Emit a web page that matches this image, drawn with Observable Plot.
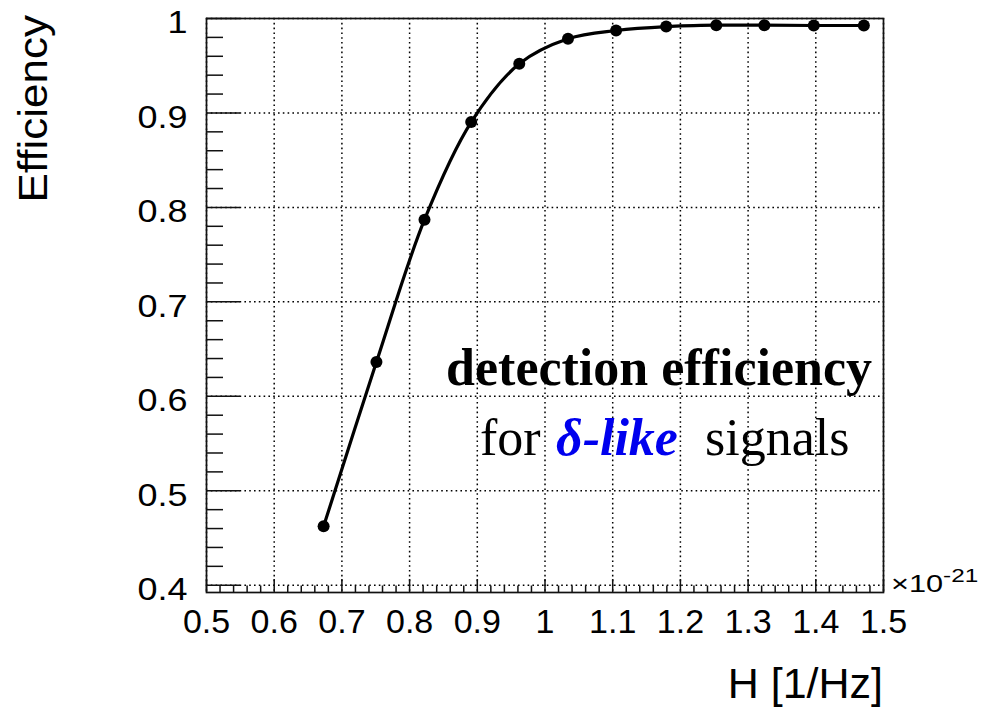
<!DOCTYPE html>
<html>
<head>
<meta charset="utf-8">
<script src="https://cdn.jsdelivr.net/npm/d3@7"></script>
<script src="https://cdn.jsdelivr.net/npm/@observablehq/plot@0.6"></script>
<style>
  html, body { margin: 0; padding: 0; background: #fff; }
  #chart { position: relative; width: 983px; height: 707px; }
</style>
</head>
<body>
<div id="chart"></div>
<script>
// Data
const H = [0.673, 0.751, 0.822, 0.891, 0.962, 1.034, 1.105, 1.179, 1.253, 1.324, 1.397, 1.471];
const efficiency = [0.4624, 0.6363, 0.787, 0.8903, 0.952, 0.9785, 0.9873, 0.9915, 0.9929, 0.9929, 0.9926, 0.9926];

// Tick labels
const xTicks = [0.5, 0.6, 0.7, 0.8, 0.9, 1.0, 1.1, 1.2, 1.3, 1.4, 1.5];
const yTicks = [0.4, 0.5, 0.6, 0.7, 0.8, 0.9, 1.0];
const xLabel = "H [1/Hz]";
const yLabel = "Efficiency";
const xExponent = "-21";

const data = H.map((h, i) => ({h, e: efficiency[i]}));

const W = 983, HGT = 707;
const mL = 206, mR = 100, mT = 18, mB = 115;
const plotW = W - mL - mR, plotH = HGT - mT - mB;

const isMajor = (v, majors) => majors.some(m => Math.abs(m - v) < 1e-6);
const xMinor = d3.range(0.5, 1.5001, 0.02).filter(v => !isMajor(v, xTicks));
const yMinor = d3.range(0.4, 1.0001, 0.02).filter(v => !isMajor(v, yTicks));

const fmt = d => String(+d.toFixed(1));
const SANS = "Liberation Sans, Arial, sans-serif";
const SERIF = "Liberation Serif, Times New Roman, serif";

const svg = Plot.plot({
  width: W,
  height: HGT,
  marginLeft: mL,
  marginRight: mR,
  marginTop: mT,
  marginBottom: mB,
  style: {fontFamily: SANS, background: "white", color: "#000"},
  x: {domain: [0.5, 1.5]},
  y: {domain: [0.3923, 1.0]},
  marks: [
    Plot.ruleX(xTicks, {stroke: "#000", strokeWidth: 1.5, strokeDasharray: "1.6,3.2"}),
    Plot.ruleY(yTicks, {stroke: "#000", strokeWidth: 1.5, strokeDasharray: "1.6,3.2"}),
    Plot.frame({stroke: "#111", strokeWidth: 1.7}),
    Plot.tickY(yTicks, {y: d => d, stroke: "#111", strokeWidth: 1.5, insetRight: plotW - 34}),
    Plot.tickY(yMinor, {y: d => d, stroke: "#111", strokeWidth: 1.5, insetRight: plotW - 17}),
    Plot.tickX(xTicks, {x: d => d, stroke: "#111", strokeWidth: 1.5, insetTop: plotH - 13}),
    Plot.tickX(xMinor, {x: d => d, stroke: "#111", strokeWidth: 1.5, insetTop: plotH - 6.5}),
    Plot.axisX(xTicks, {tickSize: 0, tickPadding: 16, fontSize: 34, tickFormat: fmt, label: null}),
    Plot.axisY(yTicks, {tickSize: 0, tickPadding: 19, fontSize: 31, dy: 5, tickFormat: fmt, label: null}),
    Plot.line(data, {x: "h", y: "e", curve: "catmull-rom", stroke: "#000", strokeWidth: 3.2}),
    Plot.dot(data, {x: "h", y: "e", r: 6, fill: "#000", stroke: "none"})
  ]
});

const s = d3.select(svg);

// widen y tick labels (reference glyphs are wider than tall)
s.selectAll('g[aria-label="y-axis tick label"] text').each(function() {
  const t = this.getAttribute("transform");
  if (t) this.setAttribute("transform", t + " scale(1.16,1)");
});

// Axis titles
s.append("text")
  .attr("transform", `translate(47,15) rotate(-90) scale(1.1,1)`)
  .attr("text-anchor", "end")
  .attr("font-family", SANS)
  .attr("font-size", 40)
  .attr("fill", "#000")
  .text(yLabel);

s.append("text")
  .attr("x", 883).attr("y", 698)
  .attr("text-anchor", "end")
  .attr("font-family", SANS)
  .attr("font-size", 43)
  .attr("fill", "#000")
  .text(xLabel);

// ×10^-21 exponent
const ex = s.append("text")
  .attr("transform", "translate(891,592) scale(1.28,1)")
  .attr("text-anchor", "start")
  .attr("font-family", SANS)
  .attr("font-size", 24)
  .attr("fill", "#000");
ex.append("tspan").text("\u00d710");
ex.append("tspan").attr("font-size", 19).attr("dy", -10).text(xExponent);

// Annotation
s.append("text")
  .attr("x", 872).attr("y", 385)
  .attr("text-anchor", "end")
  .attr("font-family", SERIF)
  .attr("font-weight", "bold")
  .attr("font-size", 52)
  .attr("fill", "#000")
  .text("detection efficiency");

const t2 = s.append("text")
  .attr("x", 480).attr("y", 455)
  .attr("text-anchor", "start")
  .attr("font-family", SERIF)
  .attr("font-size", 52)
  .attr("fill", "#000");
t2.append("tspan").text("for");
t2.append("tspan").attr("x", 556).attr("fill", "#0000ee").attr("font-weight", "bold").attr("font-style", "italic").text("\u03b4-like");
t2.append("tspan").attr("x", 705).text("signals");

document.getElementById("chart").appendChild(svg);
</script>
</body>
</html>
